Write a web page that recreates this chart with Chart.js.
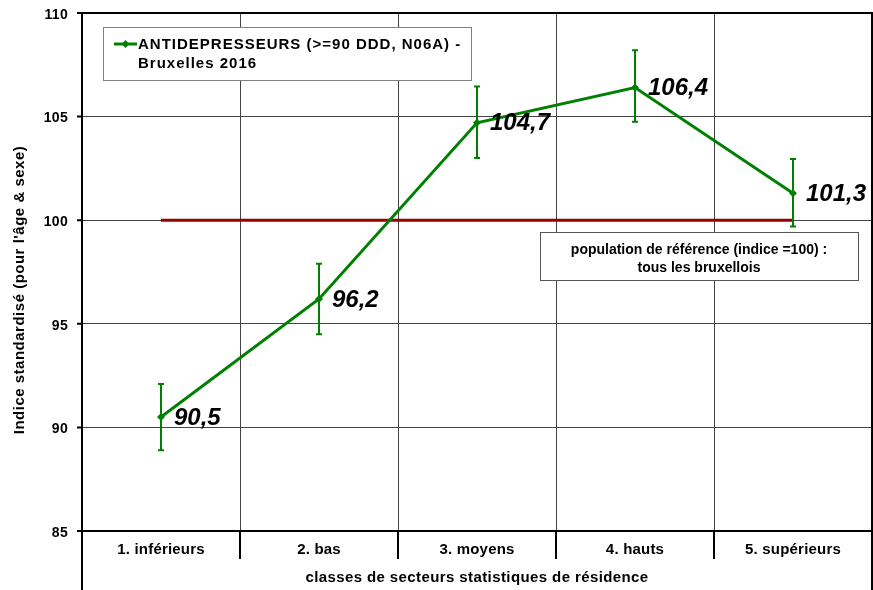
<!DOCTYPE html>
<html>
<head>
<meta charset="utf-8">
<script src="https://cdn.jsdelivr.net/npm/chart.js@4"></script>
<style>
  html, body { margin: 0; padding: 0; background: #fff; }
  #wrap { width: 873px; height: 590px; }
</style>
</head>
<body>
<div id="wrap"><canvas id="chart" width="873" height="590"></canvas></div>
<script>
// data
const categories = ['1. inférieurs', '2. bas', '3. moyens', '4. hauts', '5. supérieurs'];
const indexValues = [90.5, 96.2, 104.7, 106.4, 101.3];
const lowerCI = [88.9, 94.5, 103.0, 104.75, 99.7];
const upperCI = [92.1, 97.9, 106.45, 108.2, 102.95];
const valueLabels = ['90,5', '96,2', '104,7', '106,4', '101,3'];
const referenceValue = 100;
const yTicks = [85, 90, 95, 100, 105, 110];

const FONT = '"Liberation Sans", Arial, sans-serif';
const GREEN = '#008000';

// error bars, reference line, value labels, boxes, axis frame, tick labels
const extras = {
  id: 'extras',
  beforeDatasetsDraw(chart) {
    const { ctx, scales: { x, y } } = chart;
    ctx.save();
    ctx.strokeStyle = '#990000';
    ctx.lineWidth = 3;
    ctx.beginPath();
    ctx.moveTo(x.getPixelForValue(0), y.getPixelForValue(referenceValue));
    ctx.lineTo(x.getPixelForValue(categories.length - 1), y.getPixelForValue(referenceValue));
    ctx.stroke();

    ctx.strokeStyle = GREEN;
    ctx.lineWidth = 2;
    lowerCI.forEach((lo, i) => {
      const px = x.getPixelForValue(i);
      const y1 = y.getPixelForValue(lo), y2 = y.getPixelForValue(upperCI[i]);
      ctx.beginPath();
      ctx.moveTo(px, y1); ctx.lineTo(px, y2);
      ctx.moveTo(px - 3, y1); ctx.lineTo(px + 3, y1);
      ctx.moveTo(px - 3, y2); ctx.lineTo(px + 3, y2);
      ctx.stroke();
    });
    ctx.restore();
  },
  afterDatasetsDraw(chart) {
    const { ctx, chartArea: a, scales: { x, y } } = chart;
    ctx.save();
    // value labels
    ctx.fillStyle = '#000';
    ctx.font = 'italic bold 24px ' + FONT;
    ctx.textBaseline = 'middle';
    ctx.textAlign = 'left';
    indexValues.forEach((v, i) => {
      ctx.fillText(valueLabels[i], x.getPixelForValue(i) + 13, y.getPixelForValue(v) + 1);
    });

    // legend box
    ctx.fillStyle = '#fff';
    ctx.fillRect(103, 27, 368, 53);
    ctx.strokeStyle = '#808080';
    ctx.lineWidth = 1;
    ctx.strokeRect(103.5, 27.5, 368, 53);
    ctx.strokeStyle = GREEN;
    ctx.lineWidth = 3;
    ctx.beginPath(); ctx.moveTo(114, 44); ctx.lineTo(137, 44); ctx.stroke();
    ctx.fillStyle = GREEN;
    ctx.beginPath();
    ctx.moveTo(125.5, 40); ctx.lineTo(129.5, 44); ctx.lineTo(125.5, 48); ctx.lineTo(121.5, 44);
    ctx.closePath(); ctx.fill();
    ctx.fillStyle = '#000';
    ctx.font = 'bold 15px ' + FONT;
    ctx.letterSpacing = '1px';
    ctx.fillText('ANTIDEPRESSEURS (>=90 DDD, N06A) -', 138, 45);
    ctx.fillText('Bruxelles 2016', 138, 64);

    // reference box
    ctx.fillStyle = '#fff';
    ctx.fillRect(540, 232, 318, 48);
    ctx.strokeStyle = '#555';
    ctx.lineWidth = 1;
    ctx.strokeRect(540.5, 232.5, 318, 48);
    ctx.fillStyle = '#000';
    ctx.font = 'bold 14px ' + FONT;
    ctx.letterSpacing = '0px';
    ctx.textAlign = 'center';
    ctx.fillText('population de référence (indice =100) :', 699, 250);
    ctx.fillText('tous les bruxellois', 699, 268);

    // frame and category separators below axis
    ctx.strokeStyle = '#000';
    ctx.lineWidth = 2;
    ctx.beginPath();
    ctx.moveTo(a.left, a.top); ctx.lineTo(a.right, a.top);
    ctx.moveTo(a.left, a.bottom); ctx.lineTo(a.right, a.bottom);
    ctx.moveTo(a.left, a.top - 1); ctx.lineTo(a.left, chart.height);
    ctx.moveTo(a.right, a.top - 1); ctx.lineTo(a.right, chart.height);
    for (let i = 1; i < categories.length; i++) {
      const px = Math.round((x.getPixelForValue(i - 1) + x.getPixelForValue(i)) / 2);
      ctx.moveTo(px, a.bottom); ctx.lineTo(px, a.bottom + 28);
    }
    yTicks.forEach(t => {
      const py = y.getPixelForValue(t);
      ctx.moveTo(a.left - 5, py); ctx.lineTo(a.left, py);
    });
    ctx.stroke();

    // tick labels
    ctx.font = 'bold 14px ' + FONT;
    ctx.letterSpacing = '0.3px';
    ctx.textAlign = 'right';
    yTicks.forEach(t => ctx.fillText(String(t), 68, y.getPixelForValue(t) + 2));
    ctx.font = 'bold 15px ' + FONT;
    ctx.letterSpacing = '0.2px';
    ctx.textAlign = 'center';
    categories.forEach((c, i) => ctx.fillText(c, x.getPixelForValue(i), a.bottom + 19));

    // axis titles
    ctx.letterSpacing = '0.4px';
    ctx.fillText('classes de secteurs statistiques de résidence', (a.left + a.right) / 2, 578);
    ctx.translate(20, 290);
    ctx.rotate(-Math.PI / 2);
    ctx.letterSpacing = '0.5px';
    ctx.fillText("Indice standardisé (pour l'âge & sexe)", 0, 0);
    ctx.restore();
  }
};

new Chart(document.getElementById('chart'), {
  type: 'line',
  data: {
    labels: categories,
    datasets: [{
      label: 'ANTIDEPRESSEURS (>=90 DDD, N06A) - Bruxelles 2016',
      data: indexValues,
      borderColor: GREEN,
      backgroundColor: GREEN,
      borderWidth: 3,
      pointStyle: 'rectRot',
      pointRadius: 4,
      pointBorderWidth: 0,
      tension: 0
    }]
  },
  options: {
    responsive: false,
    animation: false,
    layout: { autoPadding: false, padding: { top: 13, right: 1, left: 0, bottom: 0 } },
    plugins: { legend: { display: false }, tooltip: { enabled: false } },
    scales: {
      x: {
        offset: true,
        grid: { offset: true, color: '#444', lineWidth: 1, drawTicks: false },
        border: { display: false },
        ticks: { display: false },
        afterFit(s) { s.height = 59; }
      },
      y: {
        min: 85, max: 110,
        grid: { color: '#444', lineWidth: 1, drawTicks: false },
        border: { display: false },
        afterBuildTicks(s) { s.ticks = yTicks.map(v => ({ value: v })); },
        ticks: { display: false },
        afterFit(s) { s.width = 82; }
      }
    }
  },
  plugins: [extras]
});
</script>
</body>
</html>
